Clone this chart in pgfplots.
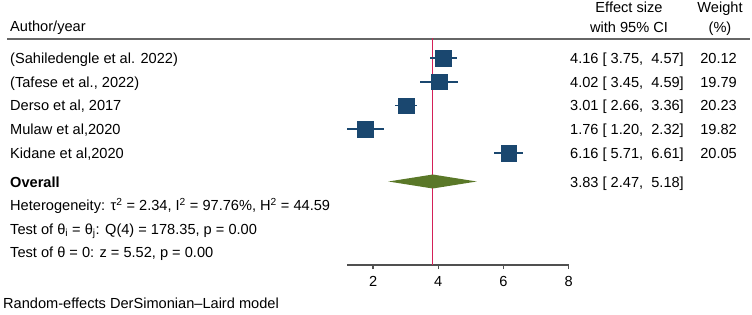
\documentclass[border=0pt]{standalone}
\usepackage{pgfplots}
\pgfplotsset{compat=1.18}
\usepackage{fontspec}
\setmainfont{Liberation Sans}
\definecolor{sblue}{RGB}{26,71,111}
\definecolor{sgreen}{RGB}{90,120,40}
\definecolor{sred}{RGB}{212,32,88}
\definecolor{sgray}{RGB}{80,80,80}
\newcommand{\fs}{\fontsize{14.6}{17}\selectfont}
\begin{document}
\fs
\begin{tikzpicture}[every node/.style={inner sep=0pt, font=\fs}]
\useasboundingbox (0,0) rectangle (752pt,-314pt);
% header
\node[anchor=base west] at (10pt,-31pt) {Author/year};
\node[anchor=base] at (629pt,-12.7pt) {Effect size};
\node[anchor=base] at (629pt,-32.5pt) {with 95\% CI};
\node[anchor=base] at (720pt,-12.7pt) {Weight};
\node[anchor=base] at (720pt,-32.5pt) {(\%)};
\draw[line width=2pt, color=black!60] (7pt,-39pt) -- (750pt,-39pt);
% study rows
\node[anchor=base west] at (10pt,-63.5pt) {(Sahiledengle et al. 2022)};
\node[anchor=base west] at (10pt,-87.2pt) {(Tafese et al., 2022)};
\node[anchor=base west] at (10pt,-110.9pt) {Derso et al, 2017};
\node[anchor=base west] at (10pt,-134.6pt) {Mulaw et al,2020};
\node[anchor=base west] at (10pt,-158.3pt) {Kidane et al,2020};
\node[anchor=base east] at (684pt,-63.5pt) {4.16 [ 3.75,~~4.57]};
\node[anchor=base east] at (684pt,-87.2pt) {4.02 [ 3.45,~~4.59]};
\node[anchor=base east] at (684pt,-110.9pt) {3.01 [ 2.66,~~3.36]};
\node[anchor=base east] at (684pt,-134.6pt) {1.76 [ 1.20,~~2.32]};
\node[anchor=base east] at (684pt,-158.3pt) {6.16 [ 5.71,~~6.61]};
\node[anchor=base east] at (737pt,-63.5pt) {20.12};
\node[anchor=base east] at (737pt,-87.2pt) {19.79};
\node[anchor=base east] at (737pt,-110.9pt) {20.23};
\node[anchor=base east] at (737pt,-134.6pt) {19.82};
\node[anchor=base east] at (737pt,-158.3pt) {20.05};
% overall
\node[anchor=base west] at (10pt,-187.3pt) {\bfseries Overall};
\node[anchor=base east] at (684pt,-187.3pt) {3.83 [ 2.47,~~5.18]};
\node[anchor=base west] at (10pt,-210.5pt) {Heterogeneity: τ\textsuperscript{2} = 2.34, I\textsuperscript{2} = 97.76\%, H\textsuperscript{2} = 44.59};
\node[anchor=base west] at (10pt,-234pt) {Test of θ\textsubscript{i} = θ\textsubscript{j}: Q(4) = 178.35, p = 0.00};
\node[anchor=base west] at (10pt,-257.5pt) {Test of θ = 0: z = 5.52, p = 0.00};
\node[anchor=base west] at (3pt,-308.5pt) {Random-effects DerSimonian–Laird model};
\begin{axis}[
  at={(347pt,-265pt)}, anchor=south west,
  scale only axis, width=221.68pt, height=227pt,
  xmin=1.2, xmax=8, ymin=0, ymax=227,
  axis x line*=bottom, hide y axis,
  x axis line style={-, line width=1.2pt, color=sgray},
  xtick={2,4,6,8}, tick align=outside, major tick length=4pt,
  xtick style={line width=1.2pt, color=sgray},
  /pgf/number format/assume math mode=true,
  xticklabel style={font=\fs, text=black, yshift=-7.5pt},
  clip=false,
]
% reference line at overall estimate
\addplot[sred, line width=1pt] coordinates {(3.83,0) (3.83,227)};
% study estimates with 95% CI
\addplot[only marks, mark=square*, mark size=7.8pt,
  mark options={fill=sblue, draw=sblue},
  error bars/.cd, x dir=both, x explicit, error mark=none,
  error bar style={line width=1.5pt, color=sblue}]
  coordinates {
  (4.16,206.9) +- (0.41,0)
  (4.02,183.2) +- (0.57,0)
  (3.01,159.5) +- (0.35,0)
  (1.76,135.8) +- (0.56,0)
  (6.16,112.1) +- (0.45,0)
  };
% overall diamond
\addplot[fill=sgreen, draw=none] coordinates {(2.47,83.5) (3.83,76.5) (5.18,83.5) (3.83,90.5)} -- cycle;
\end{axis}
\end{tikzpicture}
\end{document}
